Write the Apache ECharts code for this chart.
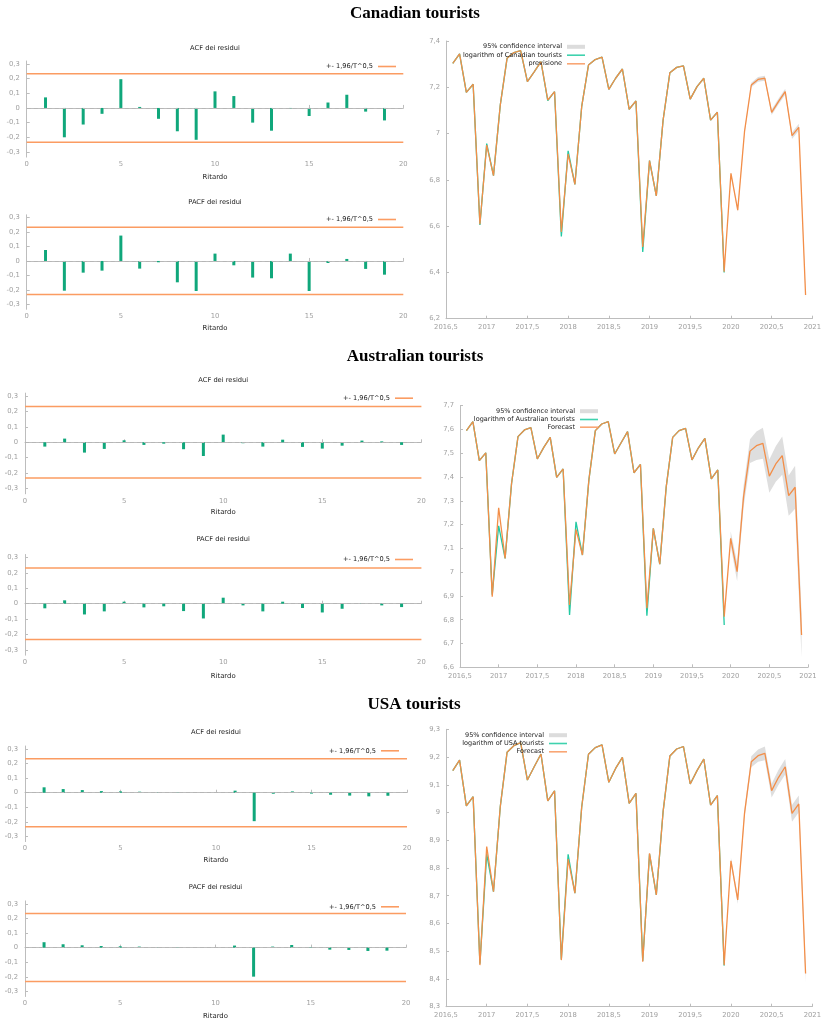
<!DOCTYPE html>
<html><head><meta charset="utf-8">
<script src="https://cdn.jsdelivr.net/npm/echarts@6/dist/echarts.min.js"></script>
<style>html,body{margin:0;padding:0;background:#fff}#c{width:824px;height:1021px}</style>
</head><body><div id="c"></div>
<script>
// ---------- DATA ----------
const months = [
  '2016-08','2016-09','2016-10','2016-11','2016-12',
  '2017-01','2017-02','2017-03','2017-04','2017-05','2017-06','2017-07','2017-08','2017-09','2017-10','2017-11','2017-12',
  '2018-01','2018-02','2018-03','2018-04','2018-05','2018-06','2018-07','2018-08','2018-09','2018-10','2018-11','2018-12',
  '2019-01','2019-02','2019-03','2019-04','2019-05','2019-06','2019-07','2019-08','2019-09','2019-10','2019-11','2019-12',
  '2020-01','2020-02','2020-03','2020-04','2020-05','2020-06','2020-07','2020-08','2020-09','2020-10','2020-11','2020-12'
];
const forecastStart = 41; // first out-of-sample month (2020-01)
const lags = [1,2,3,4,5,6,7,8,9,10,11,12,13,14,15,16,17,18,19];
const bandLimit = 0.233; // 1.96/T^0.5

const canAcf  = [0.072,-0.200,-0.113,-0.040,0.196,0.007,-0.074,-0.159,-0.217,0.113,0.081,-0.100,-0.155,-0.002,-0.055,0.037,0.090,-0.025,-0.085];
const canPacf = [0.076,-0.206,-0.081,-0.067,0.176,-0.053,-0.009,-0.148,-0.208,0.051,-0.030,-0.115,-0.120,0.051,-0.208,-0.014,0.014,-0.055,-0.095];
const ausAcf  = [-0.028,0.024,-0.067,-0.043,0.013,-0.017,-0.009,-0.045,-0.089,0.050,-0.006,-0.028,0.017,-0.030,-0.041,-0.022,0.011,0.006,-0.017];
const ausPacf = [-0.030,0.022,-0.070,-0.050,0.013,-0.024,-0.017,-0.048,-0.096,0.039,-0.011,-0.050,0.013,-0.028,-0.057,-0.033,-0.002,-0.011,-0.022];
const usaAcf  = [0.037,0.025,0.018,0.011,0.009,0.007,0.002,0.001,0.000,0.001,0.014,-0.195,-0.007,0.009,-0.006,-0.014,-0.020,-0.025,-0.021];
const usaPacf = [0.037,0.023,0.016,0.011,0.009,0.007,0.001,0.001,0.000,0.001,0.014,-0.199,0.007,0.018,0.002,-0.014,-0.016,-0.023,-0.021];

const canActual = [7.303,7.344,7.178,7.213,6.605,6.957,6.818,7.123,7.325,7.350,7.358,7.224,7.267,7.311,7.142,7.181,6.555,6.925,6.780,7.116,7.296,7.320,7.330,7.191,7.239,7.279,7.105,7.141,6.488,6.883,6.731,7.058,7.263,7.286,7.293,7.149,7.203,7.239,7.058,7.092,6.400];
const canForecast = [7.303,7.344,7.178,7.213,6.608,6.950,6.818,7.123,7.325,7.350,7.358,7.224,7.267,7.311,7.145,7.181,6.575,6.912,6.780,7.116,7.296,7.320,7.330,7.191,7.239,7.279,7.105,7.141,6.510,6.883,6.731,7.058,7.263,7.286,7.293,7.149,7.203,7.239,7.058,7.092,6.403,6.828,6.669,7.008,7.210,7.234,7.239,7.092,7.138,7.181,6.991,7.027,6.302];
const canLower = [6.822,6.662,7.000,7.200,7.224,7.228,7.080,7.126,7.168,6.977,7.012,6.286];
const canUpper = [6.834,6.676,7.016,7.220,7.244,7.250,7.104,7.150,7.194,7.005,7.042,6.318];

const ausActual = [7.595,7.633,7.469,7.502,6.905,7.195,7.058,7.373,7.570,7.598,7.608,7.476,7.525,7.567,7.399,7.434,6.820,7.212,7.072,7.388,7.595,7.623,7.633,7.497,7.544,7.591,7.418,7.453,6.817,7.184,7.034,7.359,7.567,7.595,7.605,7.472,7.523,7.563,7.392,7.430,6.778];
const ausForecast = [7.595,7.633,7.469,7.502,6.897,7.271,7.058,7.373,7.570,7.598,7.608,7.476,7.525,7.567,7.399,7.434,6.862,7.180,7.072,7.388,7.595,7.623,7.633,7.497,7.544,7.591,7.418,7.453,6.848,7.184,7.034,7.359,7.567,7.595,7.605,7.472,7.523,7.563,7.392,7.430,6.813,7.142,7.002,7.317,7.509,7.532,7.542,7.404,7.455,7.490,7.322,7.357,6.736];
const ausLower = [7.112,6.962,7.272,7.459,7.472,7.477,7.334,7.380,7.410,7.237,7.267,6.641];
const ausUpper = [7.172,7.042,7.362,7.559,7.592,7.607,7.474,7.530,7.570,7.407,7.447,6.831];

const usaActual = [9.151,9.189,9.024,9.057,8.455,8.850,8.715,9.021,9.217,9.241,9.252,9.117,9.165,9.211,9.042,9.078,8.470,8.849,8.709,9.019,9.210,9.234,9.244,9.109,9.159,9.199,9.033,9.069,8.465,8.850,8.703,9.003,9.204,9.229,9.238,9.103,9.151,9.193,9.027,9.061,8.448];
const usaForecast = [9.151,9.189,9.024,9.057,8.450,8.877,8.715,9.021,9.217,9.241,9.252,9.117,9.165,9.211,9.042,9.078,8.468,8.832,8.709,9.019,9.210,9.234,9.244,9.109,9.159,9.199,9.033,9.069,8.462,8.853,8.703,9.003,9.204,9.229,9.238,9.103,9.151,9.193,9.027,9.061,8.450,8.826,8.685,8.997,9.183,9.205,9.213,9.079,9.126,9.165,8.997,9.031,8.420];
const usaLower = [8.814,8.670,8.980,9.163,9.183,9.188,9.054,9.099,9.137,8.967,9.001,8.388];
const usaUpper = [8.838,8.700,9.014,9.203,9.227,9.238,9.104,9.153,9.193,9.027,9.061,8.452];

const acfTicks = [-0.3,-0.2,-0.1,0,0.1,0.2,0.3];

// ---------- HELPERS ----------
const decYears = months.map(m => { const [y, mo] = m.split('-').map(Number); return y + (mo - 1) / 12; });
const FONT = 'DejaVu Sans';
const GREEN_BAR = '#10a77b';
const ORANGE = '#fb9c62';
const FC_ORANGE = '#f38e48';
const TEAL = '#22c9a2';
const AXIS_GRAY = '#bdbdbd';
const LABEL_GRAY = '#a0a0a0';
const comma = v => { const r = Math.round(v * 1000) / 1000; return String(r).replace('.', ','); };

const grids = [
  {left: 26.7, top: 61,    width: 376.6, height: 96.1},
  {left: 26.7, top: 214.8, width: 376.6, height: 94.5},
  {left: 25,   top: 393.1, width: 396.4, height: 100.7},
  {left: 25,   top: 554.5, width: 396.4, height: 100.7},
  {left: 25,   top: 746,   width: 382,   height: 95.6},
  {left: 25,   top: 900.9, width: 381,   height: 95.7},
  {left: 446,  top: 41,    width: 370,   height: 277.7},
  {left: 460,  top: 405.7, width: 348,   height: 261.6},
  {left: 446,  top: 729.3, width: 370,   height: 277.4}
];

const axisCommon = {
  axisLine: {show: true, lineStyle: {color: AXIS_GRAY, width: 1}},
  axisTick: {show: true, inside: true, length: 3, lineStyle: {color: AXIS_GRAY}},
  splitLine: {show: false},
  axisLabel: {color: LABEL_GRAY, fontSize: 6.8, fontFamily: FONT, formatter: comma}
};

const xAxes = [], yAxes = [], series = [], titles = [], legends = [];
const smallText = {fontSize: 6.6, color: '#222', fontFamily: FONT};

// ACF / PACF panels
const acfPanels = [
  {vals: canAcf,  title: 'ACF dei residui',  tTop: 44.5,  legTop: 63,    legRight: 428, gap: 20},
  {vals: canPacf, title: 'PACF dei residui', tTop: 198.5, legTop: 216,   legRight: 428, gap: 19},
  {vals: ausAcf,  title: 'ACF dei residui',  tTop: 376.5, legTop: 394.7, legRight: 411, gap: 18.5},
  {vals: ausPacf, title: 'PACF dei residui', tTop: 535.5, legTop: 556,   legRight: 411, gap: 21.5},
  {vals: usaAcf,  title: 'ACF dei residui',  tTop: 729.2, legTop: 747.3, legRight: 425, gap: 19},
  {vals: usaPacf, title: 'PACF dei residui', tTop: 883.8, legTop: 903.3, legRight: 425, gap: 20}
];
const LIMIT_NAME = '+- 1,96/T^0,5';
acfPanels.forEach((p, i) => {
  const g = grids[i];
  xAxes.push(Object.assign({}, axisCommon, {
    type: 'value', gridIndex: i, min: 0, max: 20, interval: 5,
    axisLabel: Object.assign({}, axisCommon.axisLabel, {margin: 3.5}),
    name: 'Ritardo', nameLocation: 'middle', nameGap: p.gap,
    nameTextStyle: Object.assign({}, smallText, {fontSize: 6.9, verticalAlign: 'middle'})
  }));
  yAxes.push(Object.assign({}, axisCommon, {
    type: 'value', gridIndex: i, min: -0.335, max: 0.32,
    axisLabel: Object.assign({}, axisCommon.axisLabel, {customValues: acfTicks, margin: 7,
      formatter: v => v === 0 ? '0' : comma(v)}),
    axisTick: Object.assign({}, axisCommon.axisTick, {customValues: acfTicks})
  }));
  series.push({
    type: 'bar', xAxisIndex: i, yAxisIndex: i, barWidth: 3, silent: true,
    data: lags.map((l, k) => [l, p.vals[k]]),
    itemStyle: {color: GREEN_BAR},
    markLine: {silent: true, symbol: 'none', label: {show: false},
      lineStyle: {color: '#b5b5b5', type: [4, 3], width: 1.2}, data: [{yAxis: 0}]}
  });
  series.push({type: 'line', name: LIMIT_NAME, xAxisIndex: i, yAxisIndex: i, symbol: 'none', silent: true,
    lineStyle: {color: ORANGE, width: 1.5}, itemStyle: {color: ORANGE},
    data: [[0, bandLimit], [20, bandLimit]]});
  series.push({type: 'line', name: LIMIT_NAME, xAxisIndex: i, yAxisIndex: i, symbol: 'none', silent: true,
    lineStyle: {color: ORANGE, width: 1.5}, itemStyle: {color: ORANGE},
    data: [[0, -bandLimit], [20, -bandLimit]]});
  titles.push({text: p.title, left: g.left + g.width / 2, top: p.tTop, textAlign: 'center', padding: 0,
    textStyle: Object.assign({}, smallText, {fontSize: 6.7, fontWeight: 'normal'})});
  legends.push({data: [{name: LIMIT_NAME, icon: 'rect', itemStyle: {color: ORANGE}}],
    right: p.legRight, top: p.legTop, align: 'right', padding: 0,
    itemWidth: 18, itemHeight: 1.6, selectedMode: false, textStyle: smallText});
});

// Time series panels
const tsPanels = [
  {actual: canActual, fc: canForecast, lo: canLower, up: canUpper, min: 6.2, max: 7.4, step: 0.2,
   actName: 'logarithm of Canadian tourists', fcName: 'previsione', legTops: [43.3, 51.7, 60.3], legRight: 239},
  {actual: ausActual, fc: ausForecast, lo: ausLower, up: ausUpper, min: 6.6, max: 7.7, step: 0.1,
   actName: 'logarithm of Australian tourists', fcName: 'Forecast', legTops: [407.7, 416, 423.7], legRight: 226},
  {actual: usaActual, fc: usaForecast, lo: usaLower, up: usaUpper, min: 8.3, max: 9.3, step: 0.1,
   actName: 'logarithm of USA tourists', fcName: 'Forecast', legTops: [731.7, 740, 748.3], legRight: 257}
];
const BAND_NAME = '95% confidence interval';
tsPanels.forEach((p, j) => {
  const i = 6 + j;
  xAxes.push(Object.assign({}, axisCommon, {
    type: 'value', gridIndex: i, min: 2016.5, max: 2021, interval: 0.5,
    axisLabel: Object.assign({}, axisCommon.axisLabel, {margin: 5})
  }));
  yAxes.push(Object.assign({}, axisCommon, {
    type: 'value', gridIndex: i, min: p.min, max: p.max, interval: p.step,
    axisLabel: Object.assign({}, axisCommon.axisLabel, {margin: 6})
  }));
  const lo = p.lo, up = p.up;
  series.push({
    type: 'custom', name: BAND_NAME, xAxisIndex: i, yAxisIndex: i, silent: true, z: 1,
    itemStyle: {color: '#dcdcdc'},
    data: [[2018, (p.min + p.max) / 2]],
    renderItem: (params, api) => {
      const pts = [];
      for (let k = 0; k < up.length; k++) pts.push(api.coord([decYears[forecastStart + k], up[k]]));
      for (let k = lo.length - 1; k >= 0; k--) pts.push(api.coord([decYears[forecastStart + k], lo[k]]));
      return {type: 'polygon', shape: {points: pts}, style: {fill: '#dedede'}};
    }
  });
  series.push({type: 'line', name: p.actName, xAxisIndex: i, yAxisIndex: i, symbol: 'none', silent: true, z: 2,
    lineStyle: {color: TEAL, width: 1.3}, itemStyle: {color: TEAL},
    data: p.actual.map((v, k) => [decYears[k], v])});
  series.push({type: 'line', name: p.fcName, xAxisIndex: i, yAxisIndex: i, symbol: 'none', silent: true, z: 3,
    lineStyle: {color: FC_ORANGE, width: 1.3}, itemStyle: {color: FC_ORANGE},
    data: p.fc.map((v, k) => [decYears[k], v])});
  const legCommon = {right: p.legRight, align: 'right', padding: 0, itemWidth: 18, selectedMode: false,
    textStyle: Object.assign({}, smallText, {fontSize: 6.5})};
  legends.push(Object.assign({}, legCommon, {top: p.legTops[0], itemHeight: 4,
    data: [{name: BAND_NAME, icon: 'rect', itemStyle: {color: '#dcdcdc'}}]}));
  legends.push(Object.assign({}, legCommon, {top: p.legTops[1], itemHeight: 1.6,
    data: [{name: p.actName, icon: 'rect', itemStyle: {color: '#3fd2ae'}}]}));
  legends.push(Object.assign({}, legCommon, {top: p.legTops[2], itemHeight: 1.6,
    data: [{name: p.fcName, icon: 'rect', itemStyle: {color: '#f9a675'}}]}));
});

// Main section titles
const bigTitle = {fontFamily: 'Liberation Serif', fontWeight: 'bold', fontSize: 17, color: '#000'};
titles.push({text: 'Canadian tourists',   left: 415, top: 5,   textAlign: 'center', padding: 0, textStyle: bigTitle});
titles.push({text: 'Australian tourists', left: 415, top: 348, textAlign: 'center', padding: 0, textStyle: bigTitle});
titles.push({text: 'USA tourists',        left: 414, top: 696, textAlign: 'center', padding: 0, textStyle: bigTitle});

const chart = echarts.init(document.getElementById('c'), null, {renderer: 'canvas'});
chart.setOption({
  animation: false,
  backgroundColor: '#fff',
  title: titles,
  legend: legends,
  grid: grids.map(g => Object.assign({containLabel: false}, g)),
  xAxis: xAxes,
  yAxis: yAxes,
  series: series
});
</script></body></html>
